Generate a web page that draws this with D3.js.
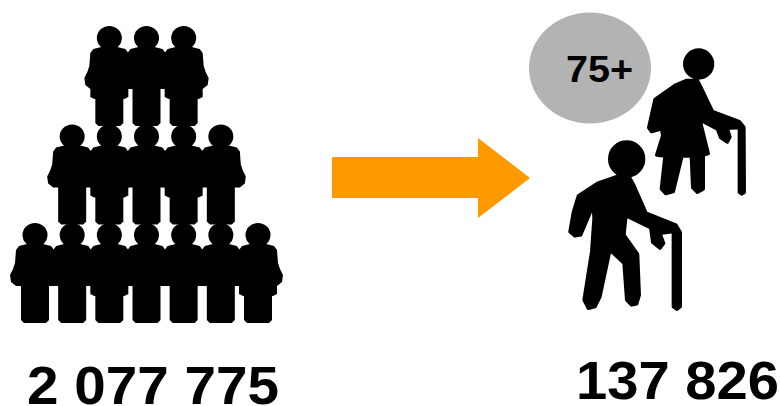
<!DOCTYPE html>
<html lang="en">
<head>
    <meta charset="UTF-8">
    <title>75+ population</title>
    <script src="https://d3js.org/d3.v7.min.js"></script>
    <style>
        html, body { margin: 0; padding: 0; background: #fff; overflow: hidden; }
        svg { display: block; }
        text { font-family: "Liberation Sans", Arial, sans-serif; font-weight: 700; fill: #000; }
    </style>
</head>
<body>
    <div id="visualization"></div>

    <script>
        const width = 780;
        const height = 406;

        // Pyramid rows, top to bottom: one column id per person, hem = jacket hem variant
        const pyramidRows = ["top", "middle", "bottom"];
        const pyramidColumns = [-3, -2, -1, 0, 1, 2, 3];
        const rowTop = [-1, 0, 1];
        const rowMiddle = [-2, -1, 0, 1, 2];
        const rowBottom = [-3, -2, -1, 0, 1, 2, 3];
        const hemTop = [-1, 1];
        const hemMiddle = [-1, 1];
        const hemBottom = [-1, 3];

        const ageLabel = "75+";
        const totalLabel = "2 077 775";
        const elderLabel = "137 826";

        const svg = d3.select("#visualization")
            .append("svg")
            .attr("width", width)
            .attr("height", height);

        const xColumn = d3.scalePoint().domain(pyramidColumns).range([35, 258]);
        const yRow = d3.scalePoint().domain(pyramidRows).range([26, 223]);

        // Person glyph: x centred, y from head top
        const personBody = [
            [-8, 21], [-16, 23], [-19, 27], [-20, 40], [-22, 46], [-25, 52], [-24, 59],
            [-19, 63], [-14, 63], [14, 63],
            [19, 63], [24, 59], [25, 52], [22, 46], [20, 40], [19, 27], [16, 23], [8, 21]
        ];
        const personPath = "M" + personBody.join("L") + "Z";
        const legsPath = "M-14,60H14V97L11,100H-11L-14,97Z";
        const hemPath = "M-19,62H19V71L15,73H-15L-19,71Z";

        function drawPerson(g, row, column, hasHem) {
            const p = g.append("g")
                .attr("transform", `translate(${xColumn(column)},${yRow(row)})`);
            p.append("ellipse").attr("cy", 12).attr("rx", 12.5).attr("ry", 12);
            p.append("path").attr("d", personPath);
            p.append("path").attr("d", legsPath);
            if (hasHem) p.append("path").attr("d", hemPath);
        }

        const pyramid = svg.append("g").attr("fill", "#000");
        rowTop.forEach(c => drawPerson(pyramid, "top", c, hemTop.includes(c)));
        rowMiddle.forEach(c => drawPerson(pyramid, "middle", c, hemMiddle.includes(c)));
        rowBottom.forEach(c => drawPerson(pyramid, "bottom", c, hemBottom.includes(c)));

        // Arrow
        const arrow = d3.path();
        arrow.moveTo(332, 157);
        arrow.lineTo(478, 157);
        arrow.lineTo(478, 138);
        arrow.lineTo(530, 178);
        arrow.lineTo(478, 218);
        arrow.lineTo(478, 198);
        arrow.lineTo(332, 198);
        arrow.closePath();
        svg.append("path").attr("d", arrow.toString()).attr("fill", "#ff9900");

        // 75+ badge
        svg.append("ellipse")
            .attr("cx", 590).attr("cy", 68)
            .attr("rx", 61).attr("ry", 55.5)
            .attr("fill", "#b3b3b3");
        svg.append("text")
            .attr("x", 566).attr("y", 82)
            .attr("textLength", 67)
            .attr("lengthAdjust", "spacingAndGlyphs")
            .style("font-size", "36px")
            .text(ageLabel);

        // Elder glyphs, traced at 3x; the round stroke adds back the inset outline
        const manBody = [[290,515],[232,535],[175,573],[160,622],[150,680],[165,693],[182,690],[220,600],[222,640],[215,740],[192,885],[205,910],[225,905],[240,875],[270,735],[312,775],[320,885],[335,900],[350,897],[358,870],[353,748],[312,690],[318,632],[392,668],[398,712],[420,730],[431,715],[420,685],[460,680],[460,905],[470,913],[481,905],[481,682],[468,660],[378,624],[342,542],[328,516]];
        const womanBody = [[500,226],[467,240],[405,283],[386,368],[395,380],[425,372],[428,392],[410,450],[435,453],[424,552],[437,566],[460,560],[486,453],[514,453],[518,548],[532,562],[550,552],[550,450],[565,446],[540,345],[592,372],[602,398],[622,411],[630,396],[622,370],[658,368],[658,562],[666,567],[673,562],[672,367],[658,350],[578,320],[541,243],[532,226]];

        const elders = svg.append("g")
            .attr("transform", "translate(520,5) scale(0.3333)")
            .attr("fill", "#000")
            .attr("stroke", "#000")
            .attr("stroke-width", 10)
            .attr("stroke-linejoin", "round");
        elders.append("circle").attr("cx", 536).attr("cy", 177).attr("r", 42);
        elders.append("path").attr("d", "M" + womanBody.join("L") + "Z");
        elders.append("circle").attr("cx", 320).attr("cy", 462).attr("r", 51);
        elders.append("path").attr("d", "M" + manBody.join("L") + "Z");

        // Totals
        svg.append("text")
            .attr("x", 27).attr("y", 404)
            .attr("textLength", 252)
            .attr("lengthAdjust", "spacingAndGlyphs")
            .style("font-size", "53px")
            .text(totalLabel);
        svg.append("text")
            .attr("x", 576).attr("y", 399)
            .attr("textLength", 203)
            .attr("lengthAdjust", "spacingAndGlyphs")
            .style("font-size", "53px")
            .text(elderLabel);
    </script>
</body>
</html>
